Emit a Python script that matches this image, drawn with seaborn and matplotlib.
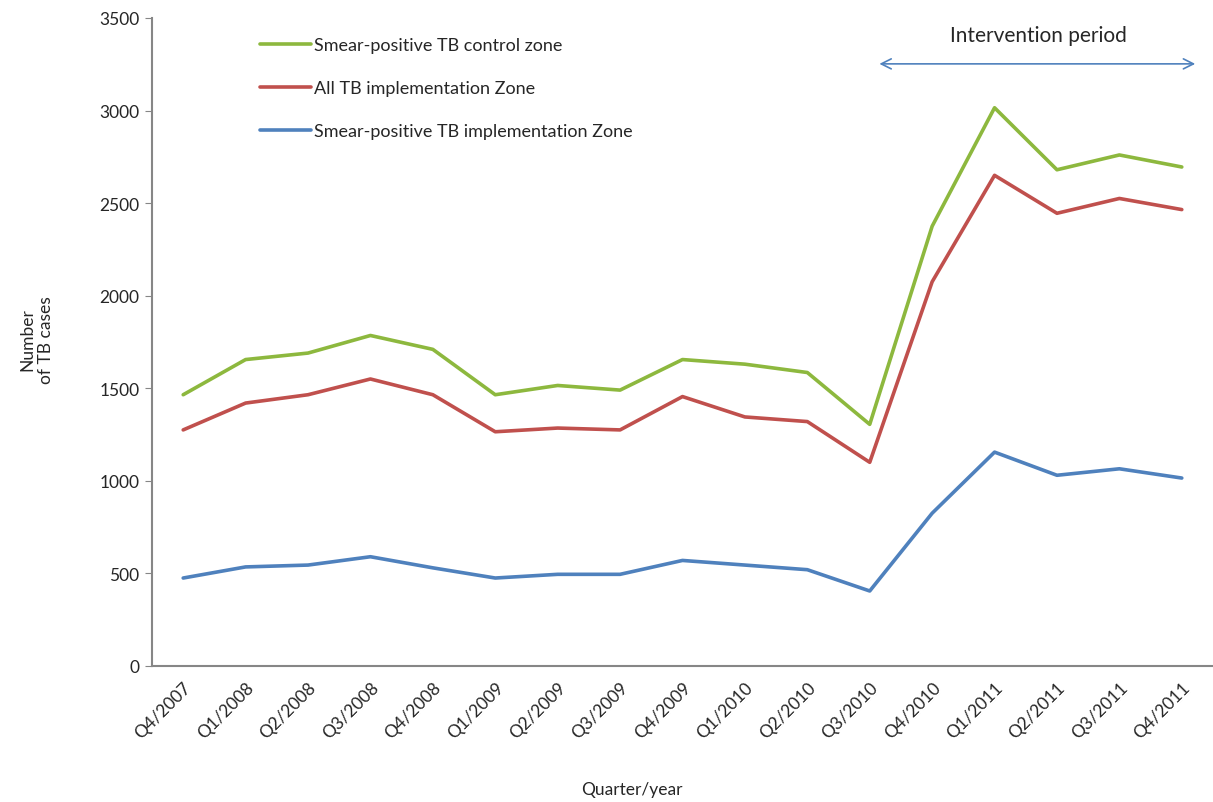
import seaborn as sns
import matplotlib.pyplot as plt
import pandas as pd

# Quarterly TB case counts
quarters = ["Q4/2007", "Q1/2008", "Q2/2008", "Q3/2008", "Q4/2008",
            "Q1/2009", "Q2/2009", "Q3/2009", "Q4/2009",
            "Q1/2010", "Q2/2010", "Q3/2010", "Q4/2010",
            "Q1/2011", "Q2/2011", "Q3/2011", "Q4/2011"]

smear_control = [1465, 1655, 1690, 1785, 1710, 1465, 1515, 1490, 1655,
                 1630, 1585, 1305, 2375, 3015, 2680, 2760, 2695]
all_tb_impl = [1275, 1420, 1465, 1550, 1465, 1265, 1285, 1275, 1455,
               1345, 1320, 1100, 2075, 2650, 2445, 2525, 2465]
smear_impl = [475, 535, 545, 590, 530, 475, 495, 495, 570,
              545, 520, 405, 825, 1155, 1030, 1065, 1015]

series_names = ["Smear-positive TB control zone",
                "All TB implementation Zone",
                "Smear-positive TB implementation Zone"]
colors = ["#8DB83E", "#C0504D", "#4F81BD"]

rows = []
for name, vals in zip(series_names, [smear_control, all_tb_impl, smear_impl]):
    for i, v in enumerate(vals):
        rows.append({"pos": i, "quarter": quarters[i], "series": name, "cases": v})
df = pd.DataFrame(rows)

sns.set_style("white")
plt.rcParams['font.family'] = ['Lato', 'DejaVu Sans']

fig = plt.figure(figsize=(12.13, 8.03), dpi=100)
ax = fig.add_axes([0.1253, 0.1694, 0.8747, 0.807])

sns.lineplot(data=df, x="pos", y="cases", hue="series", hue_order=series_names,
             palette=colors, linewidth=2.6, ax=ax, sort=False)

ax.set_xlim(-0.5, 16.5)
ax.set_ylim(0, 3500)
ax.set_yticks(range(0, 3501, 500))
ax.set_xticks(range(len(quarters)))
ax.set_xticklabels(quarters, rotation=45, ha="right", rotation_mode="anchor",
                   fontsize=12.5)
ax.tick_params(axis="y", labelsize=12.5, length=5, color="#868686",
               direction="out", left=True, pad=4)
ax.tick_params(axis="x", length=0, pad=9)

for s in ["top", "right"]:
    ax.spines[s].set_visible(False)
for s in ["left", "bottom"]:
    ax.spines[s].set_color("#868686")
    ax.spines[s].set_linewidth(1.5)

ax.set_xlabel("")
ax.set_ylabel("")
fig.text(0.03, 0.577, "Number\nof TB cases", rotation=90, ha="center",
         va="center", fontsize=12.5, multialignment="center")
fig.text(0.521, 0.016, "Quarter/year", ha="center", va="center", fontsize=12.5)

leg = ax.legend(loc="upper left", bbox_to_anchor=(0.095, 0.982), frameon=False,
                fontsize=13, handlelength=2.8, handletextpad=0.2,
                labelspacing=1.5, borderaxespad=0)

# Intervention period arrow
ax.annotate("", xy=(16.26, 3252), xytext=(11.11, 3252),
            arrowprops=dict(arrowstyle="<->", color="#4F81BD", lw=1.2,
                            mutation_scale=18))
ax.text(13.7, 3410, "Intervention period", ha="center", va="center",
        fontsize=15)

fig.savefig("out.png", dpi=100)
